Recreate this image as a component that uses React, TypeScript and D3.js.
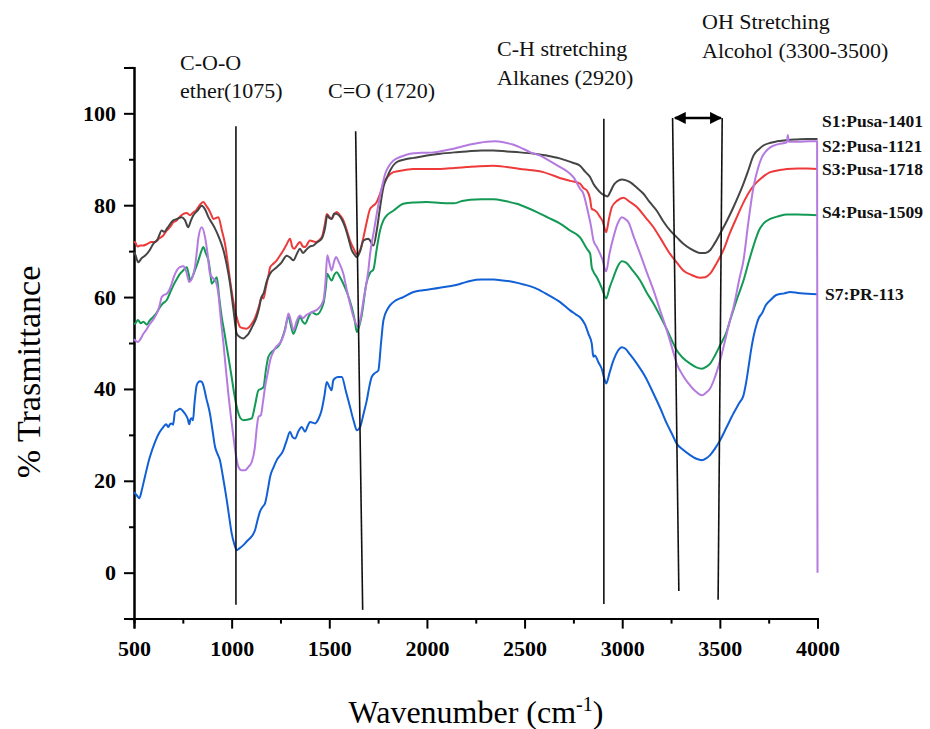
import React, { useRef, useEffect } from 'react';
import * as d3 from 'd3';

type Pt = [number, number];

// wavenumber (cm-1), % transmittance
const s1Pusa1401: Pt[] = [
  [500, 69.8], [505, 69.4], [522, 67.6], [540, 68.5], [556, 69], [580, 70.2], [599, 71.6], [620, 72.5], [642, 74.5], [655, 74.2],
  [670, 75], [701, 76.7], [720, 77], [744, 77.4], [760, 76.8], [778, 75.2], [790, 76.5], [804, 77.8], [825, 78.8], [847, 79.9],
  [865, 79], [881, 77.4], [898, 76.2], [915, 74.9], [935, 73], [958, 70.2], [975, 67], [992, 62.9], [1010, 57], [1026, 52],
  [1045, 51.2], [1060, 51], [1075, 51.5], [1086, 52], [1105, 53.5], [1128, 55.7], [1140, 57.5], [1150, 59.6], [1165, 61], [1180, 63.5],
  [1197, 65.1], [1231, 66.5], [1255, 67.5], [1282, 69], [1300, 68.6], [1316, 68], [1335, 69.5], [1350, 70.5], [1365, 69.6], [1380, 70.2],
  [1400, 71], [1418, 71.2], [1440, 72], [1461, 72.7], [1478, 75], [1490, 77.8], [1500, 77.2], [1512, 77], [1525, 78.2], [1538, 78.1],
  [1555, 77.5], [1581, 75.2], [1600, 72.5], [1615, 70.2], [1630, 69.2], [1641, 68.7], [1658, 70], [1675, 72.3], [1700, 72.7], [1709, 72.3],
  [1726, 71.2], [1743, 74.5], [1760, 79.5], [1777, 83.9], [1795, 86], [1811, 87.5], [1846, 89.4], [1890, 90], [1931, 90.3], [2000, 90.8],
  [2067, 91.2], [2140, 91.5], [2204, 91.7], [2280, 91.9], [2341, 91.9], [2410, 91.7], [2477, 91.5], [2550, 91.2], [2614, 90.8], [2680, 90.2],
  [2716, 89.7], [2750, 89.2], [2784, 88.6], [2810, 87.3], [2836, 86.1], [2853, 84.6], [2870, 83.6], [2895, 82.5], [2913, 82.1], [2924, 81.9],
  [2940, 83], [2955, 84.3], [2975, 85.2], [2998, 85.6], [3020, 85.4], [3040, 85], [3075, 83.8], [3109, 82.5], [3140, 80.7], [3177, 78.8],
  [3210, 76.5], [3245, 74.5], [3280, 73], [3313, 71.6], [3350, 70.5], [3399, 69.6], [3425, 69.6], [3450, 70.2], [3475, 71.8], [3501, 73.8],
  [3535, 76.5], [3570, 79.6], [3600, 82.5], [3621, 84.7], [3645, 87.5], [3672, 90.8], [3700, 92.2], [3723, 93], [3760, 93.6], [3792, 93.9],
  [3850, 94.2], [3894, 94.3], [3950, 94.4], [4000, 94.4],
];

const s2Pusa1121: Pt[] = [
  [500, 50.8], [505, 50.6], [520, 50.2], [535, 51], [548, 52], [565, 53], [582, 54.2], [600, 55.2], [616, 56.4], [630, 58],
  [642, 60], [655, 60.5], [667, 60.7], [680, 61.5], [693, 62.9], [705, 64.5], [719, 65.8], [735, 66.5], [753, 66.7], [768, 65.5],
  [783, 63.3], [798, 64.2], [812, 66.5], [822, 70], [830, 73], [847, 75.2], [864, 73], [878, 69], [889, 65.1], [906, 64],
  [918, 63.5], [932, 60.7], [945, 55], [958, 49.9], [970, 44.5], [983, 39], [996, 34], [1009, 29.6], [1022, 25.5], [1035, 23],
  [1050, 22.3], [1069, 22.3], [1085, 23], [1103, 24.1], [1118, 27], [1130, 32], [1137, 33.9], [1150, 34.3], [1160, 37], [1171, 40.4],
  [1185, 43.5], [1197, 46.2], [1222, 48.8], [1256, 50.6], [1275, 53], [1291, 56.4], [1305, 54.5], [1316, 52.8], [1335, 55], [1350, 56],
  [1365, 55.4], [1380, 56], [1410, 56.7], [1444, 57.5], [1470, 59.3], [1480, 63], [1490, 69.1], [1500, 67.5], [1512, 65.8], [1525, 67.8],
  [1534, 68.7], [1550, 67.5], [1572, 65.1], [1590, 61.5], [1606, 58.6], [1625, 55.5], [1649, 53.5], [1662, 55.8], [1675, 59.3], [1700, 65.8],
  [1709, 69.4], [1726, 73.8], [1751, 80], [1770, 84], [1786, 86.8], [1805, 88.5], [1828, 89.7], [1870, 90.6], [1914, 91.2], [1970, 91.4],
  [2033, 91.5], [2090, 91.9], [2136, 92.3], [2180, 92.8], [2221, 93.2], [2270, 93.6], [2306, 93.8], [2350, 93.9], [2392, 93.7], [2440, 93.2],
  [2477, 92.6], [2530, 91.5], [2580, 90.8], [2630, 89.6], [2682, 88.3], [2720, 87.3], [2750, 86.1], [2784, 83.6], [2801, 82.5], [2819, 79.6],
  [2827, 78.1], [2840, 75.5], [2853, 72.3], [2870, 70.9], [2887, 69.4], [2900, 68], [2913, 65.8], [2918, 65.6], [2935, 69.5], [2955, 73],
  [2975, 75.8], [2998, 77.4], [3015, 77], [3032, 76.3], [3060, 73], [3092, 69.4], [3125, 65.5], [3160, 61.5], [3195, 57], [3228, 52.8],
  [3255, 49], [3279, 45.5], [3310, 43], [3339, 41.2], [3375, 39.5], [3408, 38.6], [3430, 39.2], [3450, 40.1], [3470, 42], [3492, 44.8],
  [3515, 48.5], [3535, 52], [3552, 55], [3570, 57.8], [3600, 64], [3621, 68], [3645, 76], [3672, 83.9], [3695, 88], [3715, 90.4],
  [3737, 91.8], [3758, 92.6], [3800, 93.3], [3843, 93.7], [3848, 95.3], [3853, 93.8], [3900, 93.8], [3960, 93.9], [3998, 93.9], [4000, 0],
];

const s3Pusa1718: Pt[] = [
  [500, 71.8], [505, 72], [518, 71], [531, 71.2], [546, 71.2], [565, 71.5], [590, 72], [608, 72], [630, 72.8], [650, 73.4],
  [668, 74.5], [684, 75.2], [700, 76.2], [719, 76.7], [735, 77.5], [753, 78.1], [770, 78.3], [787, 77.8], [800, 78.3], [820, 79],
  [840, 80.2], [855, 80.7], [868, 80], [881, 79.2], [895, 78], [906, 77], [920, 77.2], [932, 77.4], [950, 74.5], [966, 71.6],
  [980, 67.5], [992, 63.6], [1005, 60], [1017, 57.1], [1030, 55], [1043, 53.5], [1060, 53.2], [1075, 53.1], [1090, 53.5], [1103, 54.2],
  [1115, 55], [1128, 56.4], [1140, 58], [1154, 60], [1163, 59.7], [1175, 62], [1190, 65], [1197, 66.5], [1215, 67.3], [1231, 68],
  [1250, 69.2], [1265, 70.2], [1282, 71.5], [1299, 72.7], [1310, 71], [1320, 70.5], [1335, 71.3], [1350, 72], [1365, 71], [1376, 70.9],
  [1401, 72.3], [1430, 72], [1461, 73], [1478, 76], [1487, 78.1], [1500, 77.5], [1512, 77], [1525, 78], [1538, 78.5], [1555, 77.8],
  [1572, 76.7], [1590, 74.5], [1606, 72.3], [1625, 70.5], [1641, 69.4], [1658, 70.2], [1675, 73], [1690, 76], [1709, 79.2], [1717, 79.6],
  [1743, 80.7], [1760, 82.5], [1777, 84.7], [1800, 86.2], [1828, 87.2], [1880, 87.6], [1931, 87.9], [2000, 87.9], [2067, 87.9], [2140, 88.1],
  [2204, 88.3], [2270, 88.5], [2341, 88.6], [2410, 88.3], [2477, 87.9], [2540, 87.6], [2596, 87.2], [2650, 86.4], [2699, 85.7], [2733, 85.3],
  [2784, 84.7], [2800, 83.8], [2819, 83.2], [2835, 81.5], [2844, 79.2], [2855, 79], [2870, 78.5], [2887, 77.4], [2900, 76.5], [2918, 74.1],
  [2932, 77], [2947, 79.6], [2975, 81], [3006, 81.6], [3040, 80.7], [3075, 79.6], [3120, 77.3], [3160, 75.2], [3200, 72.5], [3245, 69.4],
  [3280, 67.5], [3313, 65.8], [3355, 64.8], [3399, 64.2], [3425, 64.3], [3450, 65.1], [3485, 67.5], [3518, 70.2], [3550, 73.8], [3587, 77.4],
  [3620, 80.5], [3655, 83.2], [3680, 84.6], [3707, 85.7], [3730, 86.5], [3758, 87.2], [3800, 87.6], [3843, 87.9], [3900, 88], [3950, 88],
  [4000, 87.9],
];

const s4Pusa1509: Pt[] = [
  [500, 54.2], [505, 54.2], [520, 55], [535, 54.3], [548, 54.6], [565, 54], [582, 55], [599, 55.7], [615, 56.5], [633, 57.8],
  [650, 58.7], [667, 59.3], [685, 61], [701, 62.5], [720, 64], [736, 65.1], [752, 65.8], [770, 66.5], [780, 65], [787, 63.6],
  [800, 64.5], [812, 65.8], [830, 68], [845, 70], [855, 70.9], [868, 69.5], [881, 68], [890, 65.5], [898, 62.9], [910, 63.5],
  [924, 64.3], [936, 60], [949, 55.7], [962, 52.5], [975, 49.1], [988, 45.8], [1000, 42.6], [1013, 39], [1026, 36.1], [1043, 33.8],
  [1060, 33.2], [1080, 33.3], [1103, 33.6], [1120, 36.5], [1137, 39.7], [1150, 40], [1163, 40.4], [1175, 44], [1188, 47], [1214, 48.4],
  [1248, 49.9], [1270, 52.5], [1291, 55.7], [1305, 53.5], [1316, 52], [1335, 54], [1350, 55.7], [1365, 54.6], [1376, 54.2], [1395, 55.8],
  [1410, 56.7], [1435, 56.2], [1470, 58.6], [1482, 62], [1490, 65.1], [1500, 64.3], [1512, 63.6], [1525, 64.8], [1538, 65.4], [1555, 64.3],
  [1572, 62.9], [1595, 60.5], [1615, 57.8], [1630, 55], [1641, 52.4], [1652, 53.5], [1666, 56], [1690, 63], [1709, 65.3], [1726, 66],
  [1743, 70.5], [1760, 74.5], [1777, 76.7], [1800, 78], [1828, 78.8], [1879, 80.3], [1940, 80.6], [1999, 80.7], [2070, 80.5], [2136, 80.4],
  [2180, 80.9], [2221, 81.2], [2280, 81.3], [2341, 81.3], [2400, 80.9], [2460, 80.3], [2510, 79.5], [2563, 78.5], [2620, 77.3], [2682, 76],
  [2733, 74.5], [2784, 73], [2819, 70.5], [2836, 69.4], [2844, 66.5], [2853, 65.5], [2870, 64.3], [2895, 62], [2918, 59.7], [2935, 62],
  [2955, 64.3], [2975, 66.5], [2998, 67.8], [3020, 67.5], [3050, 66], [3092, 63.6], [3125, 61], [3160, 58.6], [3195, 55.8], [3228, 53],
  [3255, 50.5], [3279, 48.4], [3310, 46.8], [3348, 45.5], [3380, 44.7], [3408, 44.4], [3430, 44.8], [3450, 45.5], [3475, 47.3], [3501, 49.5],
  [3535, 52.5], [3553, 55], [3587, 59.5], [3621, 63.6], [3650, 68], [3681, 72.3], [3700, 74.5], [3723, 76], [3758, 77], [3800, 77.6],
  [3843, 78], [3900, 78], [3950, 77.9], [4000, 77.8],
];

const s7PR113: Pt[] = [
  [500, 17.5], [505, 17.3], [515, 16.8], [527, 16.2], [540, 18], [556, 20.9], [580, 25], [608, 28.5], [630, 30.5], [650, 31.7],
  [665, 32.3], [676, 31.7], [684, 32.3], [693, 32.5], [700, 32.2], [710, 35], [722, 35.3], [736, 35.7], [750, 35.2], [761, 34.6],
  [775, 33.5], [783, 32.3], [790, 33.5], [796, 33.6], [802, 33.2], [810, 37], [821, 40.8], [830, 41.5], [838, 41.7], [848, 41.5],
  [855, 40.8], [870, 38], [889, 34.6], [902, 31], [915, 27.4], [928, 25.8], [940, 24.5], [955, 21], [975, 15.8], [988, 12],
  [1000, 8.6], [1013, 6.3], [1026, 4.9], [1040, 5.3], [1060, 6], [1077, 6.8], [1094, 7.5], [1108, 8.2], [1120, 9.3], [1133, 11.5],
  [1145, 13.3], [1158, 14.3], [1171, 15.1], [1185, 18], [1197, 20.9], [1215, 23], [1231, 24.5], [1265, 26.7], [1282, 28.8], [1299, 30.7],
  [1312, 29.5], [1325, 29.2], [1342, 30.8], [1359, 31.7], [1376, 30.7], [1390, 32], [1401, 32.8], [1427, 32.5], [1445, 33.5], [1461, 35.4],
  [1475, 38.5], [1487, 41.5], [1500, 40.5], [1512, 39.7], [1520, 41.8], [1529, 42.3], [1545, 42.6], [1564, 42.6], [1585, 39.5], [1606, 36.1],
  [1625, 33], [1641, 31], [1658, 31.7], [1675, 34.5], [1692, 37.5], [1705, 40.5], [1717, 42.6], [1735, 43.5], [1751, 44], [1765, 50],
  [1777, 54.9], [1800, 57.5], [1828, 58.9], [1879, 60], [1931, 61.1], [1980, 61.5], [2033, 61.8], [2090, 62.2], [2136, 62.5], [2180, 63],
  [2221, 63.5], [2280, 63.8], [2341, 63.8], [2390, 63.6], [2443, 63.3], [2500, 62.7], [2563, 61.8], [2620, 60.5], [2682, 58.9], [2733, 57.1],
  [2760, 56.3], [2784, 55.6], [2810, 54], [2827, 52], [2844, 49.9], [2850, 47.5], [2853, 47], [2860, 47.3], [2878, 45.8], [2895, 44.4],
  [2910, 42], [2918, 41.2], [2935, 43.5], [2955, 46.2], [2978, 48.3], [2998, 49.1], [3015, 48.8], [3040, 47.5], [3075, 45.5], [3120, 42.5],
  [3160, 39], [3195, 35.8], [3228, 32.5], [3255, 30.2], [3279, 28.1], [3310, 26.8], [3348, 25.6], [3380, 24.8], [3408, 24.5], [3430, 24.9],
  [3450, 25.6], [3475, 27], [3501, 28.8], [3535, 31.7], [3570, 34.7], [3600, 37], [3621, 38.6], [3635, 41.5], [3647, 44.8], [3660, 48.5],
  [3672, 51.3], [3689, 54.2], [3700, 55.5], [3715, 56.4], [3735, 58.2], [3758, 59.3], [3792, 60.5], [3830, 60.8], [3860, 61.1], [3900, 60.9],
  [3950, 60.7], [4000, 60.6],
];

const seriesNames = ['S1:Pusa-1401', 'S2:Pusa-1121', 'S3:Pusa-1718', 'S4:Pusa-1509', 'S7:PR-113'];
const seriesData = [s1Pusa1401, s2Pusa1121, s3Pusa1718, s4Pusa1509, s7PR113];
const seriesColors = ['#454545', '#b47ae0', '#ee3a3a', '#129a55', '#1260d6'];

const xTicks = [500, 1000, 1500, 2000, 2500, 3000, 3500, 4000];
const yTicks = [0, 20, 40, 60, 80, 100];

// peak marker lines: [wavenumber top, T top, wavenumber bottom, T bottom]
const markerLines: [number, number, number, number][] = [
  [1022, 97.2, 1022, -7],
  [1635, 96.1, 1671, -8.1],
  [2906, 98.8, 2906, -6.8],
  [3258, 99, 3290, -4],
  [3512, 99, 3491, -5.9],
];

const W = 930, H = 729;
const SERIF = 'Liberation Serif';

const SpectraChart = () => {
  const ref = useRef<HTMLDivElement>(null);

  useEffect(() => {
    const root = d3.select(ref.current);
    root.select('svg').remove();

    const svg = root.append('svg')
      .attr('width', W)
      .attr('height', H)
      .attr('font-family', SERIF)
      .style('display', 'block');

    const x = d3.scaleLinear().domain([500, 4000]).range([134, 817.5]);
    const y = d3.scaleLinear().domain([-10, 110]).range([618.6, 67.4]);

    const axisW = 2;

    // y axis
    const yAxis = svg.append('g').attr('transform', `translate(${x(500)},0)`);
    yAxis.call(d3.axisLeft(y).tickValues(d3.range(-10, 111, 20)).tickSize(5).tickFormat(() => ''));
    yAxis.call(g => g.append('g').call(d3.axisLeft(y).tickValues(yTicks).tickSize(10).tickPadding(8)
      .tickFormat(d => String(d))));
    yAxis.selectAll('path.domain').attr('stroke-width', axisW).attr('stroke', '#000');
    yAxis.selectAll('line').attr('stroke-width', axisW).attr('stroke', '#000');
    yAxis.selectAll('text').attr('font-size', 22).attr('font-weight', 'bold')
      .attr('font-family', SERIF).attr('fill', '#000');

    // x axis
    const xAxis = svg.append('g').attr('transform', `translate(0,${y(-10)})`);
    xAxis.call(d3.axisBottom(x).tickValues(d3.range(750, 4000, 500)).tickSize(5).tickFormat(() => ''));
    xAxis.call(g => g.append('g').call(d3.axisBottom(x).tickValues(xTicks).tickSize(10).tickPadding(12)
      .tickFormat(d => String(d))));
    xAxis.selectAll('path.domain').attr('stroke-width', axisW).attr('stroke', '#000');
    xAxis.selectAll('line').attr('stroke-width', axisW).attr('stroke', '#000');
    xAxis.selectAll('text').attr('font-size', 22).attr('font-weight', 'bold')
      .attr('font-family', SERIF).attr('fill', '#000');

    // spectra
    const line = d3.line<Pt>()
      .x(d => x(d[0]))
      .y(d => y(d[1]))
      .curve(d3.curveMonotoneX);

    // purple sits over black on the plateau
    const order = [4, 3, 2, 0, 1];
    order.forEach(i => {
      svg.append('path')
        .datum(seriesData[i])
        .attr('fill', 'none')
        .attr('stroke', seriesColors[i])
        .attr('stroke-width', 2)
        .attr('stroke-linejoin', 'round')
        .attr('d', line);
    });

    // marker lines
    svg.selectAll('line.marker')
      .data(markerLines)
      .enter()
      .append('line')
      .attr('class', 'marker')
      .attr('x1', d => x(d[0]))
      .attr('y1', d => y(d[1]))
      .attr('x2', d => x(d[2]))
      .attr('y2', d => y(d[3]))
      .attr('stroke', '#111')
      .attr('stroke-width', 1.6);

    // double arrow for the OH band
    const defs = svg.append('defs');
    defs.append('marker')
      .attr('id', 'ah')
      .attr('viewBox', '0 0 10 10')
      .attr('refX', 9)
      .attr('refY', 5)
      .attr('markerWidth', 12)
      .attr('markerHeight', 12)
      .attr('markerUnits', 'userSpaceOnUse')
      .attr('orient', 'auto-start-reverse')
      .append('path')
      .attr('d', 'M0,0 L10,5 L0,10 z')
      .attr('fill', '#000');
    svg.append('line')
      .attr('x1', x(3270))
      .attr('x2', x(3505))
      .attr('y1', y(99))
      .attr('y2', y(99))
      .attr('stroke', '#000')
      .attr('stroke-width', 2.5)
      .attr('marker-start', 'url(#ah)')
      .attr('marker-end', 'url(#ah)');

    // band annotations
    const notes: [string, number, number][] = [
      ['C-O-O', 180, 70],
      ['ether(1075)', 180, 98],
      ['C=O (1720)', 328, 98],
      ['C-H stretching', 497, 56],
      ['Alkanes (2920)', 497, 85],
      ['OH Stretching', 702, 29],
      ['Alcohol (3300-3500)', 702, 58],
    ];
    svg.selectAll('text.note')
      .data(notes)
      .enter()
      .append('text')
      .attr('class', 'note')
      .attr('x', d => d[1])
      .attr('y', d => d[2])
      .attr('font-family', SERIF)
      .attr('font-size', 22)
      .attr('fill', '#111')
      .text(d => d[0]);

    // series labels at the right end
    const labelY = [126.7, 151.7, 175, 218.3, 300];
    const labelX = [822, 822, 822, 822, 825];
    seriesNames.forEach((name, i) => {
      svg.append('text')
        .attr('x', labelX[i])
        .attr('y', labelY[i])
        .attr('font-family', SERIF)
        .attr('font-size', 17.5)
        .attr('font-weight', 'bold')
        .attr('fill', '#111')
        .text(name);
    });

    // axis titles
    svg.append('text')
      .attr('transform', `translate(40,372) rotate(-90)`)
      .attr('text-anchor', 'middle')
      .attr('font-family', SERIF)
      .attr('font-size', 34)
      .attr('fill', '#000')
      .text('% Trasmittance');

    const xt = svg.append('text')
      .attr('x', 476)
      .attr('y', 723)
      .attr('text-anchor', 'middle')
      .attr('font-family', SERIF)
      .attr('font-size', 32)
      .attr('fill', '#000');
    xt.append('tspan').text('Wavenumber (cm');
    xt.append('tspan').attr('font-size', 20).attr('dy', -12).text('-1');
    xt.append('tspan').attr('dy', 12).text(')');
  }, []);

  return <div ref={ref} />;
};

export default function App() {
  return (
    <div style={{ position: 'absolute', left: 0, top: 0, background: '#fff' }}>
      <SpectraChart />
    </div>
  );
}
